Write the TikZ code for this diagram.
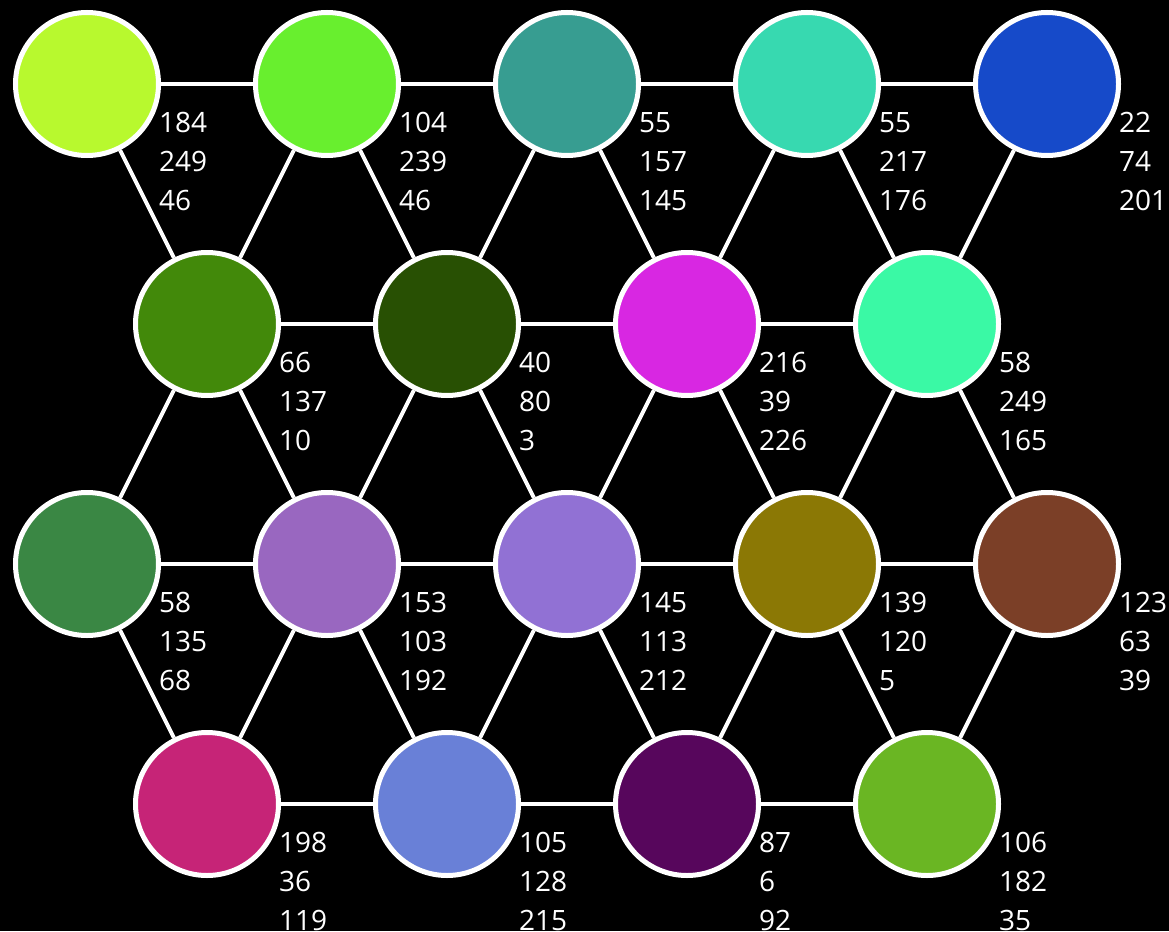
\documentclass[tikz,border=0pt]{standalone}
\usepackage{fontspec}
\setmainfont{Open Sans}
\usepackage{tikz}
\usetikzlibrary{positioning}
\definecolor{ca1}{RGB}{184,249,46}
\definecolor{ca2}{RGB}{104,239,46}
\definecolor{ca3}{RGB}{55,157,145}
\definecolor{ca4}{RGB}{55,217,176}
\definecolor{ca5}{RGB}{22,74,201}
\definecolor{cb1}{RGB}{66,137,10}
\definecolor{cb2}{RGB}{40,80,3}
\definecolor{cb3}{RGB}{216,39,226}
\definecolor{cb4}{RGB}{58,249,165}
\definecolor{cc1}{RGB}{58,135,68}
\definecolor{cc2}{RGB}{153,103,192}
\definecolor{cc3}{RGB}{145,113,212}
\definecolor{cc4}{RGB}{139,120,5}
\definecolor{cc5}{RGB}{123,63,39}
\definecolor{cd1}{RGB}{198,36,119}
\definecolor{cd2}{RGB}{105,128,215}
\definecolor{cd3}{RGB}{87,6,92}
\definecolor{cd4}{RGB}{106,182,35}
\tikzset{
  dot/.style={circle,draw=white,line width=5pt,minimum size=143pt,inner sep=0pt},
  rgbval/.style={text=white,align=left,inner sep=0pt,anchor=north west,
    font=\fontsize{28}{39}\selectfont},
  link/.style={draw=white,line width=4pt}
}

\begin{document}
\begin{tikzpicture}[x=1pt,y=-1pt]
\fill[black] (0,0) rectangle (1169,931);
\useasboundingbox (0,0) rectangle (1169,931);

% row 1
\node[dot, fill=ca1] (a1) at (87,84) {};
\node[dot, fill=ca2] (a2) at (327,84) {};
\node[dot, fill=ca3] (a3) at (567,84) {};
\node[dot, fill=ca4] (a4) at (807,84) {};
\node[dot, fill=ca5] (a5) at (1047,84) {};
% row 2
\node[dot, fill=cb1] (b1) at (207,324) {};
\node[dot, fill=cb2] (b2) at (447,324) {};
\node[dot, fill=cb3] (b3) at (687,324) {};
\node[dot, fill=cb4] (b4) at (927,324) {};
% row 3
\node[dot, fill=cc1] (c1) at (87,564) {};
\node[dot, fill=cc2] (c2) at (327,564) {};
\node[dot, fill=cc3] (c3) at (567,564) {};
\node[dot, fill=cc4] (c4) at (807,564) {};
\node[dot, fill=cc5] (c5) at (1047,564) {};
% row 4
\node[dot, fill=cd1] (d1) at (207,804) {};
\node[dot, fill=cd2] (d2) at (447,804) {};
\node[dot, fill=cd3] (d3) at (687,804) {};
\node[dot, fill=cd4] (d4) at (927,804) {};

% values
\node[rgbval] (va1) at (159,112) {184\\249\\46};
\node[rgbval] (va2) at (399,112) {104\\239\\46};
\node[rgbval] (va3) at (639,112) {55\\157\\145};
\node[rgbval] (va4) at (879,112) {55\\217\\176};
\node[rgbval] (va5) at (1119,112) {22\\74\\201};
\node[rgbval] (vb1) at (279,352) {66\\137\\10};
\node[rgbval] (vb2) at (519,352) {40\\80\\3};
\node[rgbval] (vb3) at (759,352) {216\\39\\226};
\node[rgbval] (vb4) at (999,352) {58\\249\\165};
\node[rgbval] (vc1) at (159,592) {58\\135\\68};
\node[rgbval] (vc2) at (399,592) {153\\103\\192};
\node[rgbval] (vc3) at (639,592) {145\\113\\212};
\node[rgbval] (vc4) at (879,592) {139\\120\\5};
\node[rgbval] (vc5) at (1119,592) {123\\63\\39};
\node[rgbval] (vd1) at (279,832) {198\\36\\119};
\node[rgbval] (vd2) at (519,832) {105\\128\\215};
\node[rgbval] (vd3) at (759,832) {87\\6\\92};
\node[rgbval] (vd4) at (999,832) {106\\182\\35};

% horizontal links
\draw[link] (a1) -- (a2);
\draw[link] (a2) -- (a3);
\draw[link] (a3) -- (a4);
\draw[link] (a4) -- (a5);
\draw[link] (b1) -- (b2);
\draw[link] (b2) -- (b3);
\draw[link] (b3) -- (b4);
\draw[link] (c1) -- (c2);
\draw[link] (c2) -- (c3);
\draw[link] (c3) -- (c4);
\draw[link] (c4) -- (c5);
\draw[link] (d1) -- (d2);
\draw[link] (d2) -- (d3);
\draw[link] (d3) -- (d4);
% row 1 to row 2
\draw[link] (a1) -- (b1);
\draw[link] (a2) -- (b1);
\draw[link] (a2) -- (b2);
\draw[link] (a3) -- (b2);
\draw[link] (a3) -- (b3);
\draw[link] (a4) -- (b3);
\draw[link] (a4) -- (b4);
\draw[link] (a5) -- (b4);
% row 2 to row 3
\draw[link] (b1) -- (c1);
\draw[link] (b1) -- (c2);
\draw[link] (b2) -- (c2);
\draw[link] (b2) -- (c3);
\draw[link] (b3) -- (c3);
\draw[link] (b3) -- (c4);
\draw[link] (b4) -- (c4);
\draw[link] (b4) -- (c5);
% row 3 to row 4
\draw[link] (c1) -- (d1);
\draw[link] (c2) -- (d1);
\draw[link] (c2) -- (d2);
\draw[link] (c3) -- (d2);
\draw[link] (c3) -- (d3);
\draw[link] (c4) -- (d3);
\draw[link] (c4) -- (d4);
\draw[link] (c5) -- (d4);
\end{tikzpicture}
\end{document}
